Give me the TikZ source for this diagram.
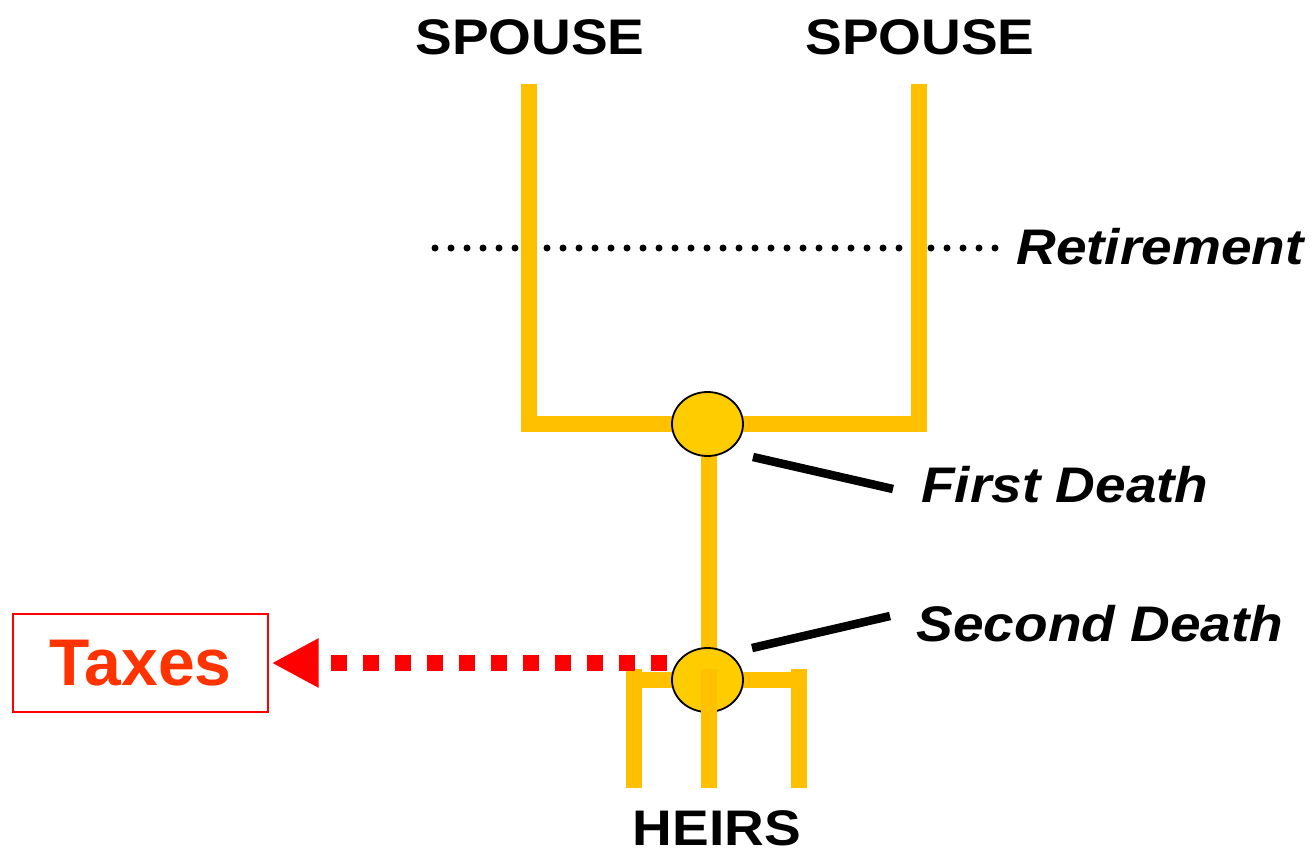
\documentclass[tikz,border=0pt]{standalone}
\usepackage{fontspec}
\setmainfont{Liberation Sans}
\newfontfamily\labfont[FakeStretch=1.1]{Liberation Sans}
\usetikzlibrary{arrows.meta,shapes.geometric}
\definecolor{bar}{HTML}{FFC000}
\definecolor{disc}{HTML}{FFCC00}
\definecolor{taxred}{HTML}{FF3300}
\tikzset{
  barline/.style={draw=bar, line width=16pt},
  deathdisc/.style={ellipse, draw=black, line width=1.8pt, fill=disc, minimum width=71pt, minimum height=64pt, inner sep=0pt},
  leader/.style={draw=black, line width=8.5pt},
  lbl/.style={font=\labfont\bfseries\fontsize{50}{54}\selectfont, inner sep=0pt, anchor=base},
  ilbl/.style={font=\labfont\bfseries\itshape\fontsize{50}{54}\selectfont, inner sep=0pt, anchor=base},
}
\begin{document}
\begin{tikzpicture}[x=1pt,y=-1pt]
\useasboundingbox (0,0) rectangle (1316,854);
% retirement dotted line
\coordinate (rl) at (435,248);
\coordinate (rr) at (997,248);
\draw[line width=7pt, dash pattern=on 0pt off 16pt, line cap=round] (rl) -- (rr);
% spouse bars
\coordinate (sl) at (529,84);
\coordinate (sr) at (919,84);
\coordinate (bl) at (529,424);
\coordinate (br) at (919,424);
\draw[barline, line join=miter] (sl) -- (bl) -- (br) -- (sr);
% stem
\coordinate (stemtop) at (709,456);
\coordinate (stembot) at (709,680);
\draw[barline] (stemtop) -- (stembot);
% heirs bar
\coordinate (hl) at (626,680);
\coordinate (hr) at (807,680);
\draw[barline] (hl) -- (hr);
% death discs
\node[deathdisc] (d1) at (707.5,424) {};
\node[deathdisc] (d2) at (707.5,680) {};
% heirs legs
\coordinate (l1t) at (634,669); \coordinate (l1b) at (634,788);
\coordinate (l2t) at (709,669); \coordinate (l2b) at (709,788);
\coordinate (l3t) at (799,669); \coordinate (l3b) at (799,788);
\draw[barline] (l1t) -- (l1b);
\draw[barline] (l2t) -- (l2b);
\draw[barline] (l3t) -- (l3b);
% labels
\node[lbl] (sp1) at (530,54) {SPOUSE};
\node[lbl] (sp2) at (920,54) {SPOUSE};
\node[lbl] (heirs) at (717,845) {HEIRS};
\node[ilbl] (ret) at (1160,264) {Retirement};
\node[ilbl] (fd) at (1065,502) {First Death};
\node[ilbl] (sd) at (1100,641) {Second Death};
% leaders
\coordinate (fdl) at (893,489);
\coordinate (sdl) at (890,616);
\draw[leader] (753,457) -- (fdl);
\draw[leader] (752,648) -- (sdl);
% taxes
\node[draw=red, line width=1.3pt, minimum width=255pt, minimum height=98pt, inner sep=0pt,
      text=taxred, font=\bfseries\fontsize{66}{70}\selectfont] (tax) at (140.5,663) {Taxes};
\coordinate (taxstart) at (667,663);
\draw[red, line width=16pt, dash pattern=on 16pt off 16pt,
      -{Triangle[length=47pt,width=46pt]}, shorten >=3pt] (taxstart) -- (tax.east);
\end{tikzpicture}
\end{document}
